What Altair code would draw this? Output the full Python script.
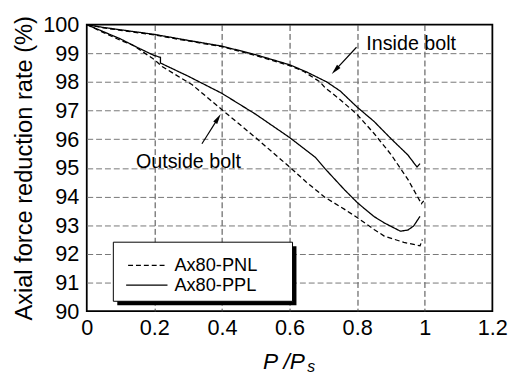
import altair as alt
import pandas as pd

FONT = "Liberation Sans"

# ---- data ----
x_in_ppl = [0, 0.05, 0.1, 0.2, 0.3, 0.4, 0.5, 0.6, 0.65, 0.71, 0.75, 0.8, 0.85, 0.9, 0.95, 0.977, 0.986]
y_in_ppl = [100, 99.9, 99.82, 99.66, 99.45, 99.25, 98.95, 98.6, 98.35, 98.0, 97.68, 97.12, 96.62, 96.02, 95.45, 95.03, 95.15]

x_in_pnl = [0, 0.05, 0.1, 0.2, 0.3, 0.4, 0.5, 0.6, 0.64, 0.69, 0.705, 0.75, 0.8, 0.85, 0.9, 0.95, 0.99, 0.997]
y_in_pnl = [100, 99.89, 99.8, 99.64, 99.43, 99.23, 98.92, 98.57, 98.38, 98.0, 97.8, 97.38, 96.86, 96.2, 95.47, 94.6, 93.75, 93.85]

x_out_ppl = [0, 0.05, 0.1, 0.15, 0.2, 0.218, 0.218, 0.3, 0.4, 0.5, 0.6, 0.676, 0.705, 0.763, 0.802, 0.85, 0.88, 0.928, 0.95, 0.967, 0.986]
y_out_ppl = [100, 99.75, 99.5, 99.2, 98.92, 98.86, 98.66, 98.2, 97.6, 96.87, 96.06, 95.37, 94.97, 94.23, 93.77, 93.3, 93.08, 92.79, 92.83, 92.97, 93.31]

x_out_pnl = [0, 0.05, 0.1, 0.137, 0.2, 0.224, 0.312, 0.4, 0.5, 0.6, 0.65, 0.705, 0.763, 0.802, 0.85, 0.88, 0.938, 0.986, 0.993]
y_out_pnl = [100, 99.72, 99.45, 99.28, 98.78, 98.53, 97.9, 97.03, 96.05, 95.03, 94.5, 93.97, 93.55, 93.25, 92.85, 92.62, 92.4, 92.28, 92.5]

series_names = ["Ax80-PNL", "Ax80-PPL"]
x_ticks = [0, 0.2, 0.4, 0.6, 0.8, 1.0, 1.2]
y_ticks = [90, 91, 92, 93, 94, 95, 96, 97, 98, 99, 100]

rows = []
for curve, series, xs, ys in [
    ("in-ppl", "Ax80-PPL", x_in_ppl, y_in_ppl),
    ("in-pnl", "Ax80-PNL", x_in_pnl, y_in_pnl),
    ("out-ppl", "Ax80-PPL", x_out_ppl, y_out_ppl),
    ("out-pnl", "Ax80-PNL", x_out_pnl, y_out_pnl),
]:
    for i, (xv, yv) in enumerate(zip(xs, ys)):
        rows.append({"curve": curve, "series": series, "x": xv, "y": yv, "i": i})
df = pd.DataFrame(rows)

DASH = [5, 3]
dash_scale = alt.Scale(domain=series_names, range=[DASH, [1, 0]])

lines = alt.Chart(df).mark_line(color="black", strokeWidth=1.3).encode(
    x=alt.X("x:Q", scale=alt.Scale(domain=[0, 1.2], nice=False, zero=False),
            axis=alt.Axis(values=x_ticks, format="~g", title=None, ticks=False, domain=False,
                          grid=True, gridDash=[6, 3], gridColor="#444", gridWidth=1,
                          gridOpacity={"condition": {"test": "datum.value <= 0 || datum.value >= 1.2", "value": 0}, "value": 1},
                          labelFontSize=22, labelFont=FONT, labelColor="black", labelPadding=7,
                          labelFlush=False)),
    y=alt.Y("y:Q", scale=alt.Scale(domain=[90, 100], nice=False, zero=False),
            axis=alt.Axis(values=y_ticks, format="d", title="Axial force reduction rate (%)",
                          ticks=False, domain=False,
                          grid=True, gridDash=[6, 3], gridColor="#777", gridWidth=1,
                          gridOpacity={"condition": {"test": "datum.value <= 90 || datum.value >= 100", "value": 0}, "value": 1},
                          labelFontSize=22, labelFont=FONT, labelColor="black", labelPadding=8,
                          labelFlush=False,
                          titleFont=FONT, titleFontSize=24, titleFontWeight="normal", titleColor="black",
                          titleAngle=270, titleX=-56, titleY=145.5, titleAlign="center",
                          titleBaseline="alphabetic")),
    detail="curve:N",
    order="i:Q",
    strokeDash=alt.StrokeDash("series:N", scale=dash_scale, legend=None),
)

one = pd.DataFrame({"k": [0]})


def txt(s, x, y, size=20, italic=False):
    return alt.Chart(one).mark_text(
        text=s, align="left", baseline="alphabetic", fontSize=size, font=FONT,
        fontStyle="italic" if italic else "normal", color="black"
    ).encode(x=alt.value(x), y=alt.value(y))


def rule(x1, y1, x2, y2, dash=None, width=1.2):
    kw = {"color": "black", "strokeWidth": width}
    if dash:
        kw["strokeDash"] = dash
    return alt.Chart(one).mark_rule(**kw).encode(
        x=alt.value(x1), y=alt.value(y1), x2=alt.value(x2), y2=alt.value(y2))


def head(x, y, ang):
    return alt.Chart(one).mark_point(
        shape="M0,-1L0.45,1L-0.45,1Z", filled=True, color="black", opacity=1,
        size=110, angle=ang, strokeWidth=0
    ).encode(x=alt.value(x), y=alt.value(y))


shadow = alt.Chart(one).mark_rect(color="black").encode(
    x=alt.value(31), x2=alt.value(213), y=alt.value(225), y2=alt.value(285))
box = alt.Chart(one).mark_rect(fill="white", stroke="black", strokeWidth=1).encode(
    x=alt.value(27), x2=alt.value(209), y=alt.value(221), y2=alt.value(281))

chart = alt.layer(
    lines,
    shadow, box,
    rule(42, 244.5, 82, 244.5, dash=DASH, width=1.3),
    rule(40, 264.5, 82, 264.5, width=1.3),
    txt("Ax80-PNL", 89, 250.5, size=18.5),
    txt("Ax80-PPL", 89, 271, size=18.5),
    txt("Inside bolt", 284, 26),
    txt("Outside bolt", 50, 146),
    rule(274, 23, 252.4, 46.3),
    head(252.4, 46.3, 222.8),
    rule(117, 121, 133.3, 95.2),
    head(133.3, 95.2, 32.3),
    txt("P /P", 179, 350, size=23, italic=True),
    txt("s", 224, 353, size=16, italic=True),
).properties(
    width=412, height=291,
    autosize=alt.AutoSizeParams(type="none"),
    padding={"left": 80, "top": 14, "right": 24, "bottom": 62},
).configure_view(stroke="black", strokeWidth=1.8)

chart.save("out.html", embed_options={"renderer": "svg", "actions": False})
